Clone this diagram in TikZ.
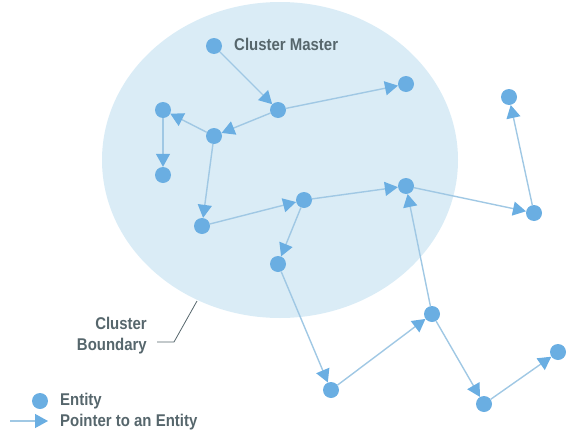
\documentclass[tikz,border=0pt]{standalone}
\usepackage{fontspec}
\setmainfont{Liberation Sans}
\newfontfamily\narrowsans[FakeStretch=0.88]{Liberation Sans}
\usepackage{xcolor}
\usepackage{tikz}
\usetikzlibrary{arrows.meta}
\definecolor{dotblue}{HTML}{6AAEE2}
\definecolor{linkblue}{HTML}{A0C8E4}
\definecolor{clusterbg}{HTML}{DAECF6}
\definecolor{labelgray}{HTML}{56666C}

\begin{document}
\begin{tikzpicture}[
  x=1pt, y=-1pt,
  entity/.style={circle, fill=dotblue, minimum size=16pt, inner sep=0pt},
  lbl/.style={font=\narrowsans\bfseries\fontsize{17}{21}\selectfont, text=labelgray, inner sep=0pt},
  arr/.style={-{Triangle[length=13pt, width=14pt, color=dotblue]}, linkblue, line width=1.4pt}
]
\useasboundingbox (0,0) rectangle (568,442);
% cluster boundary
\fill[clusterbg] (280,160) ellipse [x radius=178pt, y radius=158pt];
% entities
\node[entity] (m) at (214,46) {};
\node[entity] (a) at (278,110) {};
\node[entity] (b) at (406,84) {};
\node[entity] (c) at (214,136) {};
\node[entity] (d) at (163,110) {};
\node[entity] (e) at (163,175) {};
\node[entity] (f) at (202,226) {};
\node[entity] (g) at (304,200) {};
\node[entity] (h) at (406,186) {};
\node[entity] (i) at (534,213) {};
\node[entity] (j) at (509,97) {};
\node[entity] (k) at (278,264) {};
\node[entity] (l) at (331,390) {};
\node[entity] (n) at (432,314) {};
\node[entity] (o) at (484,404) {};
\node[entity] (p) at (558,352) {};
% pointers
\draw[arr] (m) -- (a); \draw[arr] (a) -- (b); \draw[arr] (a) -- (c);
\draw[arr] (c) -- (d); \draw[arr] (d) -- (e); \draw[arr] (c) -- (f);
\draw[arr] (f) -- (g); \draw[arr] (g) -- (h); \draw[arr] (g) -- (k);
\draw[arr] (h) -- (i); \draw[arr] (i) -- (j); \draw[arr] (k) -- (l);
\draw[arr] (l) -- (n); \draw[arr] (n) -- (h); \draw[arr] (n) -- (o);
\draw[arr] (o) -- (p);
% labels
\node[lbl, anchor=west] (mlabel) at (234,44) {Cluster Master};
\node[lbl, anchor=east, align=right] (blabel) at (147,336) {Cluster\\Boundary};
\coordinate (bend) at (174,342);
\coordinate (bedge) at (197,301);
\draw[labelgray, line width=0.8pt] (blabel.east |- bend) ++(10,0) -- (bend) -- (bedge);
% legend
\node[entity] (keydot) at (40,401) {};
\node[lbl, anchor=west] (keyentity) at (60,401) {Entity};
\coordinate (keystart) at (10,421);
\node[lbl, anchor=west] (keypointer) at (60,422) {Pointer to an Entity};
\draw[arr] (keystart) -- (48,421);
\end{tikzpicture}
\end{document}
